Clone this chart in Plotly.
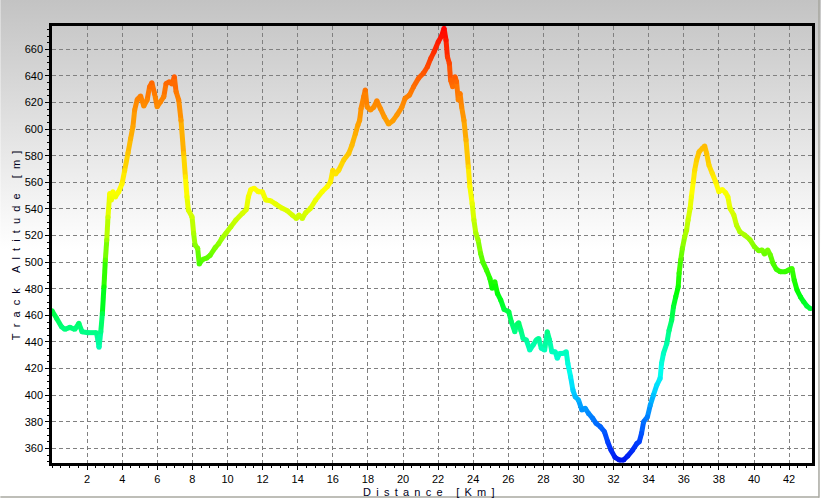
import base64
import plotly.graph_objects as go
from plotly.colors import sample_colorscale

# ---------------- data ----------------
km = [0.00, 0.26, 0.54, 0.73, 1.02, 1.30, 1.53, 1.71, 2.06, 2.53, 2.62, 2.68, 2.78, 2.87, 2.96,
      3.04, 3.12, 3.19, 3.29, 3.38, 3.47, 3.61, 3.80, 3.99, 4.14, 4.33, 4.48, 4.61, 4.71, 4.86,
      5.05, 5.23, 5.42, 5.56, 5.69, 5.84, 5.99, 6.18, 6.37, 6.50, 6.69, 6.84, 6.97, 7.07, 7.22,
      7.35, 7.50, 7.60, 7.69, 7.77, 7.98, 8.07, 8.15, 8.30, 8.39, 8.58, 8.80, 9.00, 9.30, 9.50,
      9.68, 9.91, 10.19, 10.48, 10.85, 11.08, 11.19, 11.33, 11.52, 11.76, 11.99, 12.18, 12.46,
      12.75, 13.12, 13.41, 13.69, 13.92, 14.07, 14.26, 14.45, 14.73, 15.02, 15.39, 15.68, 15.87,
      16.00, 16.15, 16.34, 16.62, 16.91, 17.09, 17.29, 17.43, 17.53, 17.61, 17.76, 17.85, 17.95,
      18.14, 18.33, 18.51, 18.71, 18.93, 19.18, 19.42, 19.65, 19.93, 20.12, 20.37, 20.60, 20.88,
      21.16, 21.39, 21.58, 21.77, 22.01, 22.20, 22.34, 22.45, 22.53, 22.64, 22.71, 22.83, 22.96,
      23.05, 23.15, 23.25, 23.34, 23.47, 23.59, 23.72, 23.81, 23.94, 24.04, 24.15, 24.28, 24.42,
      24.55, 24.76, 24.95, 25.08, 25.23, 25.38, 25.57, 25.76, 26.03, 26.17, 26.37, 26.46, 26.59,
      26.71, 26.84, 27.03, 27.22, 27.41, 27.59, 27.73, 27.88, 28.07, 28.22, 28.35, 28.48, 28.67,
      28.79, 28.92, 29.11, 29.30, 29.39, 29.55, 29.68, 29.81, 30.00, 30.19, 30.38, 30.57, 30.81,
      31.00, 31.25, 31.48, 31.66, 31.85, 32.08, 32.33, 32.57, 32.80, 33.08, 33.33, 33.46, 33.59,
      33.71, 33.93, 34.09, 34.27, 34.46, 34.65, 34.73, 34.84, 35.03, 35.16, 35.31, 35.41, 35.54,
      35.68, 35.73, 35.82, 35.92, 36.05, 36.16, 36.24, 36.36, 36.43, 36.54, 36.62, 36.73, 36.87,
      37.06, 37.19, 37.30, 37.43, 37.62, 37.81, 38.00, 38.19, 38.38, 38.51, 38.63, 38.85, 39.00,
      39.19, 39.46, 39.76, 40.02, 40.27, 40.46, 40.59, 40.78, 40.93, 41.08, 41.27, 41.50, 41.78,
      41.97, 42.16, 42.29, 42.45, 42.64, 42.83, 43.01, 43.20]
altitude = [463.5, 457.8, 451.4, 449.5, 451.0, 449.5, 454.0, 447.7, 447.0, 447.0, 441.4, 436.0, 447.7, 461.5, 481.5,
            501.6, 516.6, 534.0, 551.7, 546.7, 553.0, 549.0, 553.0, 559.0, 569.0, 582.0, 593.0, 601.8, 614.4, 622.4,
            624.9, 617.4, 621.9, 631.9, 634.9, 626.9, 616.8, 620.6, 624.4, 634.4, 635.6, 633.9, 639.4, 628.1, 621.9,
            606.8, 581.8, 564.2, 549.2, 539.2, 534.1, 521.7, 512.9, 510.4, 498.6, 502.1, 503.0, 505.0, 511.0, 514.0,
            517.9, 521.7, 526.6, 531.7, 536.7, 539.7, 549.2, 554.7, 555.5, 552.9, 552.9, 546.7, 546.2,
            543.7, 540.5, 538.6, 535.4, 532.9, 535.4, 532.9, 537.1, 540.5, 546.7, 552.9, 556.7, 560.5,
            569.2, 566.2, 569.2, 576.8, 581.8, 588.0, 596.8, 603.1, 606.8, 615.6, 624.4, 629.4, 616.8,
            614.4, 616.4, 621.4, 615.6, 609.3, 603.8, 606.3, 610.6, 616.4, 623.2, 625.6, 631.9, 638.2,
            642.0, 646.9, 653.2, 658.2, 665.7, 670.0, 675.8, 667.0, 654.4, 649.5, 636.9, 631.9, 639.4,
            635.6, 621.9, 626.9, 616.8, 606.8, 591.8, 571.7, 556.7, 544.2, 531.7, 521.7, 516.6, 506.6,
            500.0, 494.0, 487.8, 480.3, 485.3, 476.5, 471.5, 464.5, 462.7, 455.2, 447.7, 452.7, 454.4,
            449.0, 442.7, 441.4, 433.9, 437.7, 441.4, 442.7, 435.2, 433.9, 447.7, 441.4, 432.6, 432.6,
            427.7, 431.4, 431.4, 432.6, 423.9, 413.8, 403.8, 398.8, 396.3, 388.8, 390.1, 386.3, 382.6,
            378.8, 376.2, 372.5, 365.0, 358.7, 353.2, 351.2, 351.2, 354.2, 358.7, 363.8, 364.9, 371.3,
            380.0, 383.8, 392.6, 400.1, 407.6, 412.6, 423.9, 431.4, 438.9, 448.9, 456.5, 466.5, 474.0,
            481.5, 491.6, 501.6, 510.4, 519.1, 524.1, 531.7, 540.5, 549.2, 560.5, 569.2, 576.8, 583.0,
            585.6, 587.3, 581.8, 573.0, 566.8, 560.5, 552.9, 554.7, 552.2, 549.2, 540.5, 535.4, 527.9,
            522.9, 520.4, 517.1, 511.6, 508.6, 509.1, 506.1, 509.1, 505.4, 499.1, 494.6, 492.8, 492.8,
            494.1, 495.3, 486.5, 479.0, 474.0, 470.2, 467.0, 465.2]
x_tick_values = [2, 4, 6, 8, 10, 12, 14, 16, 18, 20, 22, 24, 26, 28, 30, 32, 34, 36, 38, 40, 42]
y_tick_values = [360, 380, 400, 420, 440, 460, 480, 500, 520, 540, 560, 580, 600, 620, 640, 660]
x_title = "Distance [Km]"
y_title = "Track Altitude [m]"

# ---------------- styling ----------------
W, H = 824, 499
ML, MR, MT, MB = 52, 9, 26, 36
PW, PH = W - ML - MR, H - MT - MB

alt_stops = [351, 365, 380, 392, 405, 418, 432, 445, 460, 478, 500, 520, 540, 555, 580, 605, 625, 645, 676]
stop_colors = ["#0018f0", "#0040ff", "#0070ff", "#00a0ff", "#00d8ff", "#00ffee", "#00ffc0", "#00ff90",
               "#00ff50", "#00ff00", "#50ff00", "#a8ff00", "#e0ff00", "#ffff00", "#ffc800", "#ffa000",
               "#ff8000", "#ff5000", "#ff0000"]
amin, amax = alt_stops[0], alt_stops[-1]
colorscale = [[(a - amin) / (amax - amin), c] for a, c in zip(alt_stops, stop_colors)]


def color_for(a):
    f = min(max((a - amin) / (amax - amin), 0), 1)
    return sample_colorscale(colorscale, [f])[0]


def spaced(s, sep):
    return sep.join(list(s))


fig = go.Figure()
LW = 5
for i in range(len(km) - 1):
    fig.add_trace(go.Scatter(
        x=[km[i], km[i + 1]], y=[altitude[i], altitude[i + 1]], mode="lines",
        line=dict(color=color_for((altitude[i] + altitude[i + 1]) / 2), width=LW),
        hoverinfo="skip", showlegend=False))
fig.add_trace(go.Scatter(
    x=km, y=altitude, mode="markers",
    marker=dict(color=altitude, colorscale=colorscale, cmin=amin, cmax=amax, size=LW, line=dict(width=0)),
    showlegend=False, hovertemplate="%{x:.2f} km<br>%{y:.0f} m<extra></extra>"))

# background gradient + outer frame as an svg image
svg = (f'<svg xmlns="http://www.w3.org/2000/svg" width="{W}" height="{H}" viewBox="0 0 {W} {H}" '
       f'preserveAspectRatio="none"><defs><linearGradient id="g" x1="0" y1="0" x2="0" y2="1">'
       f'<stop offset="0" stop-color="#c3c3c3"/><stop offset="0.5" stop-color="#ffffff"/>'
       f'<stop offset="1" stop-color="#ffffff"/></linearGradient></defs>'
       f'<rect width="{W}" height="{H}" fill="url(#g)"/>'
       f'<line x1="0" y1="497" x2="822" y2="497" stroke="#a8a8a0" stroke-width="1.5"/>'
       f'<line x1="822" y1="0" x2="822" y2="497.7" stroke="#a8a8a0" stroke-width="1.5"/></svg>')
src = "data:image/svg+xml;base64," + base64.b64encode(svg.encode()).decode()
fig.add_layout_image(dict(source=src, xref="paper", yref="paper", x=-ML / PW, y=1 + MT / PH,
                          sizex=W / PW, sizey=H / PH, sizing="stretch", xanchor="left", yanchor="top",
                          layer="below"))

tick_font = dict(family="Liberation Sans, Arial, sans-serif", size=11, color="#000000")
grid = dict(showgrid=True, gridcolor="#808080", gridwidth=1, griddash="4px,3px")

fig.update_xaxes(range=[0, PW / 17.62], tickmode="array", tickvals=x_tick_values,
                 ticks="outside", ticklen=4, tickcolor="#000000", tickwidth=1, tickfont=tick_font,
                 showline=True, linecolor="#000000", linewidth=2.5, mirror=True, zeroline=False,
                 minor=dict(tickmode="linear", tick0=0, dtick=0.5, ticks="outside", ticklen=2,
                            tickcolor="#000000", showgrid=False),
                 **grid)
fig.update_yaxes(range=[349.0, 349.0 + PH / 1.33], tickmode="array", tickvals=y_tick_values,
                 ticks="outside", ticklen=4, tickcolor="#000000", tickwidth=1, tickfont=tick_font,
                 showline=True, linecolor="#000000", linewidth=2.5, mirror=True, zeroline=False,
                 minor=dict(tickmode="linear", tick0=0, dtick=5, ticks="outside", ticklen=2,
                            tickcolor="#000000", showgrid=False),
                 **grid)

title_font = dict(family="Liberation Sans, Arial, sans-serif", size=11, color="#000020")
fig.add_annotation(text=spaced(x_title, "\u00a0\u2009"), xref="paper", yref="paper",
                   x=(430 - ML) / PW, y=(H - MB - 491.5) / PH, xanchor="center", yanchor="middle",
                   showarrow=False, font=title_font)
fig.add_annotation(text=spaced(y_title, "\u00a0\u00a0"), xref="paper", yref="paper",
                   x=(16 - ML) / PW, y=(H - MB - 245) / PH, xanchor="center", yanchor="middle",
                   textangle=-90, showarrow=False, font=title_font)

fig.update_layout(width=W, height=H, margin=dict(l=ML, r=MR, t=MT, b=MB, pad=0),
                  paper_bgcolor="#ffffff", plot_bgcolor="rgba(0,0,0,0)", showlegend=False)

fig.write_html("out.html", config={"displayModeBar": False},
               post_script="document.body.style.margin='0';document.body.style.padding='0';"
                           "document.body.style.overflow='hidden';")
